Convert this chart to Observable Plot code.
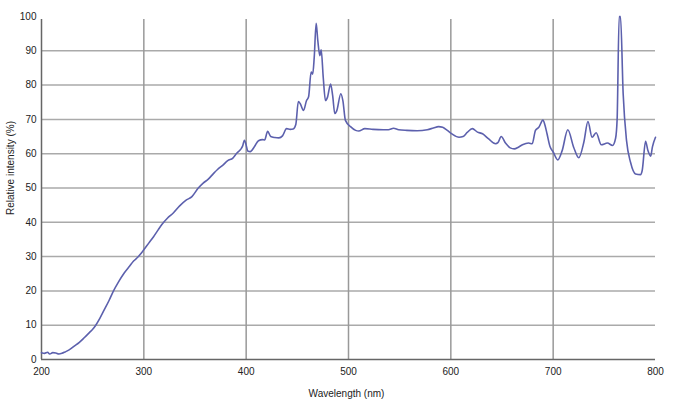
<!DOCTYPE html>
<html>
<head>
<meta charset="utf-8">
<script src="https://cdn.jsdelivr.net/npm/d3@7"></script>
<script src="https://cdn.jsdelivr.net/npm/@observablehq/plot@0.6"></script>
<style>
  html, body { margin: 0; padding: 0; background: #fff; }
  #chart { width: 676px; height: 406px; }
</style>
</head>
<body>
<div id="chart"></div>
<script>
const wavelength = [
  200, 203, 206, 208, 211, 214, 217, 220, 223, 227, 232, 237, 242, 247, 250, 253, 257, 261, 266, 270,
  275, 281, 286, 290, 294, 297, 300, 305, 309.5, 314, 318, 323, 329, 335, 341, 347, 353, 358, 363, 368,
  372, 377, 382, 387, 391, 394.5, 396.5, 398.3, 400, 401.5, 404, 408, 412, 416, 418, 421, 424, 428, 432, 435.5,
  439.5, 443, 446, 448.5, 451, 453, 456, 459, 461, 463.5, 465, 466.5, 468.4, 470, 472, 473.3, 475.3, 477.5, 479.5, 482.5,
  484.5, 486.6, 488.5, 492.5, 494.5, 497, 502, 507, 510, 516, 524, 534, 539, 544, 549, 557, 567, 577, 583, 588,
  592, 596.5, 601, 608, 612, 616, 621, 626, 631, 637, 643.7, 646, 649.2, 653.4, 658, 662, 666, 670, 676, 679.5,
  682.7, 686, 690, 692, 694, 697, 700, 704.5, 708.8, 714.3, 720, 725, 730, 734, 738, 742, 747, 753, 758, 761,
  762.5, 764.5, 765.8, 768.4, 771.7, 775.6, 780.5, 785.4, 787, 790.3, 792.6, 795.3, 797, 800
];
const intensity = [
  2.0, 1.8, 2.1, 1.6, 2.0, 1.9, 1.6, 1.8, 2.2, 2.8, 3.9, 5.0, 6.4, 7.9, 8.8, 10.0, 12.0, 14.3, 17.2, 19.8,
  22.5, 25.3, 27.2, 28.7, 29.8, 30.8, 32.0, 34.0, 35.8, 37.8, 39.5, 41.2, 42.8, 44.8, 46.4, 47.5, 49.9, 51.4, 52.6, 54.2,
  55.4, 56.6, 58.0, 58.7, 60.2, 61.2, 62.2, 63.9, 62.5, 60.8, 60.6, 62.0, 63.8, 64.1, 64.0, 66.5, 65.0, 64.7, 64.6, 65.2,
  67.3, 67.1, 67.2, 68.5, 75.2, 74.5, 72.6, 75.5, 76.6, 83.8, 83.2, 88.0, 98.0, 93.0, 88.6, 90.3, 82.3, 75.5, 76.5, 80.3,
  77.0, 71.7, 72.5, 77.5, 75.5, 69.7, 67.9, 66.8, 66.6, 67.3, 67.1, 67.0, 67.0, 67.4, 67.0, 66.8, 66.7, 67.0, 67.5, 67.9,
  67.7, 66.8, 65.8, 64.8, 65.0, 66.2, 67.3, 66.3, 65.8, 64.3, 62.9, 63.2, 65.0, 63.1, 61.7, 61.4, 61.9, 62.6, 63.1, 62.9,
  66.8, 67.7, 69.8, 68.3, 65.8, 62.0, 60.5, 58.2, 60.9, 67.0, 61.9, 58.8, 63.4, 69.4, 64.8, 66.1, 62.6, 63.1, 62.4, 64.5,
  70.0, 100, 100, 77.5, 63.8, 57.5, 54.1, 53.9, 55.1, 63.6, 60.9, 59.3, 62.0, 64.8
];
const xTicks = [200, 300, 400, 500, 600, 700, 800];
const yTicks = [0, 10, 20, 30, 40, 50, 60, 70, 80, 90, 100];
const xGrid = [300, 400, 500, 600, 700];
const yGrid = [10, 20, 30, 40, 50, 60, 70, 80, 90];
const xLabel = "Wavelength (nm)";
const yLabel = "Relative intensity (%)";

const data = wavelength.map((w, i) => ({w, v: intensity[i]}));

const chart = Plot.plot({
  width: 676,
  height: 406,
  marginLeft: 41,
  marginRight: 21,
  marginTop: 16,
  marginBottom: 47,
  style: {fontFamily: "'Liberation Sans', Arial, sans-serif", fontSize: "10px", color: "#222", background: "#fff"},
  x: {domain: [200, 800]},
  y: {domain: [0, 100]},
  marks: [
    Plot.gridY(yGrid, {stroke: "#aaa", strokeWidth: 1.5, strokeOpacity: 1}),
    Plot.gridX(xGrid, {stroke: "#999", strokeWidth: 1.5, strokeOpacity: 1, insetTop: 3}),
    Plot.ruleX([200], {stroke: "#666", strokeWidth: 1.5, insetTop: 3}),
    Plot.ruleY([0], {stroke: "#666", strokeWidth: 1.5}),
    Plot.axisX({ticks: xTicks, tickSize: 0, tickPadding: 8, label: null, tickFormat: d => String(d)}),
    Plot.axisY({ticks: yTicks, tickSize: 0, tickPadding: 5, label: null, tickFormat: d => String(d)}),
    Plot.line(data, {x: "w", y: "v", stroke: "#5c60ad", strokeWidth: 1.6, curve: "monotone-x"}),
    Plot.text([xLabel], {text: d => d, frameAnchor: "bottom", dx: -2, dy: 34, textAnchor: "middle", lineAnchor: "middle", fill: "#222"}),
    Plot.text([yLabel], {text: d => d, frameAnchor: "left", dx: -31, dy: -20, rotate: -90, textAnchor: "middle", lineAnchor: "middle", fill: "#222"})
  ]
});
document.getElementById("chart").appendChild(chart);
</script>
</body>
</html>
